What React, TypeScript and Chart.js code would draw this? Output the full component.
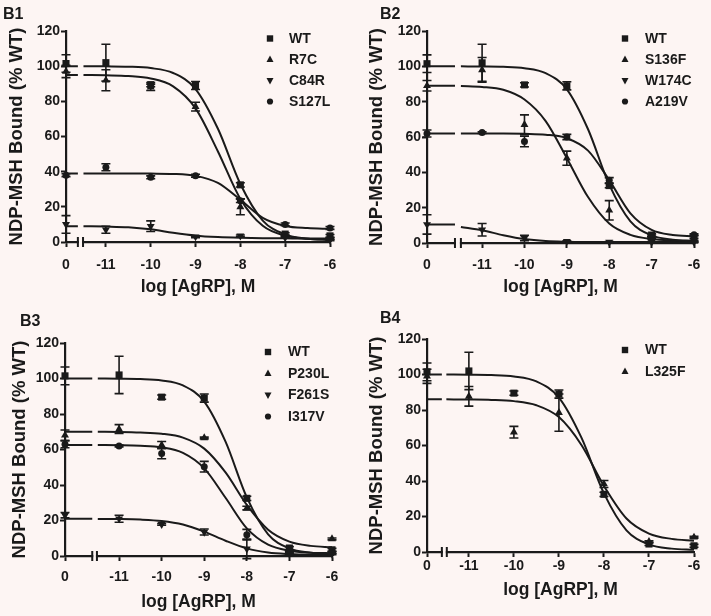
import React, { useEffect, useRef } from "react";
import { Chart, registerables } from "chart.js";

Chart.register(...registerables);

const BG = "#FDF5F3";
const INK = "#1a1a1a";
const FONT = "'Liberation Sans', Arial, Helvetica, sans-serif";

// x: log [AgRP] (M); "0" = no AgRP, plotted left of the axis break
const DOSE_LABELS = ["0", "-11", "-10", "-9", "-8", "-7", "-6"];
const LOG_DOSE = [0, -11, -10, -9, -8, -7, -6];
// fitted-curve sample positions (right of the break)
const FIT_LOG_X = [-11.5, -11, -10.5, -10, -9.5, -9, -8.5, -8, -7.5, -7, -6.5, -6];
const Y_TICKS = [0, 20, 40, 60, 80, 100, 120];
const Y_TITLE = "NDP-MSH Bound (% WT)";
const X_TITLE = "log [AgRP], M";

// *_MEAN / *_SEM: one value per LOG_DOSE
// *_FIT: first value = plateau drawn left of the break, then one value per FIT_LOG_X
const WT_MEAN = [101.5, 102, 89.5, 89, 32.5, 4.5, 3.5];
const WT_SEM = [5, 10.5, 1.2, 2.3, 1.2, 0.8, 0.8];
const WT_FIT = [100, 100, 99.9, 99.7, 98.9, 96.1, 87.0, 64.4, 33.0, 12.2, 4.3, 1.9, 1.2];

// B1
const R7C_MEAN = [97, 92, 88, 77, 20, 3.5, 2];
const R7C_SEM = [3.5, 6, 1.8, 2.5, 4.5, 0.5, 0.5];
const R7C_FIT = [95, 95, 94.8, 94.4, 93.0, 88.5, 76.0, 51.5, 24.5, 9.2, 3.6, 1.8, 1.2];
const C84R_MEAN = [10, 7, 9, 3, 3.5, 2.5, 1];
const C84R_SEM = [5, 2, 3, 0.5, 0.5, 0.3, 0.3];
const C84R_FIT = [9, 9, 8.8, 8.4, 7.2, 5.2, 3.6, 2.8, 2.4, 2.2, 2.1, 2.0, 2.0];
const S127L_MEAN = [38, 42.5, 36.8, 37.7, 23.5, 10, 8];
const S127L_SEM = [0.8, 2, 0.8, 0.8, 1, 0.8, 0.8];
const S127L_FIT = [39, 39, 39, 39, 38.9, 38.7, 37.6, 33.6, 24.0, 13.7, 9.1, 7.9, 7.5];

// B2
const S136F_MEAN = [89, 98, 67, 48, 18.5, 3, 1];
const S136F_SEM = [3, 7, 5.5, 4, 5.5, 0.5, 0.5];
const S136F_FIT = [89, 88.8, 88.3, 86.7, 81.2, 69.0, 48.0, 26.0, 11.0, 4.6, 2.2, 1.4, 1.1];
const W174C_MEAN = [10.5, 7.5, 2.8, 1, 0.5, 0.5, 0.5];
const W174C_SEM = [5.5, 3.5, 1.5, 0.3, 0.3, 0.3, 0.3];
const W174C_FIT = [10.5, 9.1, 7.2, 4.4, 2.2, 1.1, 0.7, 0.55, 0.5, 0.5, 0.5, 0.5, 0.5];
const A219V_MEAN = [62, 62.5, 57.5, 60, 35.5, 4, 4.7];
const A219V_SEM = [2, 0.5, 3, 1.5, 1.5, 0.5, 0.5];
const A219V_FIT = [62, 62, 62, 62, 61.8, 61.3, 59.3, 52.3, 35.6, 16.8, 7.4, 4.5, 3.8];

// B3
const P230L_MEAN = [68, 71.5, 62.5, 66.5, 27, 3, 9.6];
const P230L_SEM = [3, 2.5, 2, 0.5, 1, 0.5, 0.5];
const P230L_FIT = [70, 70, 69.9, 69.6, 68.9, 66.7, 60.5, 47.1, 28.8, 14.8, 8.1, 5.7, 4.9];
const F261S_MEAN = [23, 21, 17.8, 13.5, 4, 1, 1];
const F261S_SEM = [1.5, 2, 0.5, 1.7, 5.5, 0.3, 0.3];
const F261S_FIT = [21, 20.9, 20.8, 20.5, 19.7, 17.7, 13.7, 8.6, 4.3, 2.0, 1.1, 0.7, 0.6];
const I317V_MEAN = [63, 62, 57.8, 50.3, 12, 2.5, 2];
const I317V_SEM = [2, 0.5, 3, 3, 3, 0.5, 0.5];
const I317V_FIT = [62.5, 62.5, 62.4, 62.1, 61.2, 58.1, 49.4, 32.8, 15.6, 6.4, 3.0, 1.9, 1.6];

// B4
const L325F_MEAN = [99, 87.7, 67.5, 78.5, 38.3, 5.8, 8.3];
const L325F_SEM = [4, 5.5, 3.3, 10.5, 2, 0.5, 0.5];
const L325F_FIT = [86, 86, 85.9, 85.7, 85.0, 82.7, 76.0, 60.3, 37.2, 18.9, 10.4, 7.4, 6.4];

type Marker = "rect" | "tri" | "inv" | "circle";
type Series = { name: string; mean: number[]; sem: number[]; fit: number[]; marker: Marker };

const wt: Series = { name: "WT", mean: WT_MEAN, sem: WT_SEM, fit: WT_FIT, marker: "rect" };

const PANELS = [
  {
    label: "B1", box: [0, 0, 355, 300], area: [66, 31, 330, 242],
    zeroX: -11.89, breakX: [-11.625, -11.51],
    yTitleX: 17, xTitleY: 287.5, xTickPad: 9.6, labelPos: [3, 15],
    legend: { x: 270, textX: 289, y: 38.5, dy: 21 },
    series: [
      wt,
      { name: "R7C", mean: R7C_MEAN, sem: R7C_SEM, fit: R7C_FIT, marker: "tri" },
      { name: "C84R", mean: C84R_MEAN, sem: C84R_SEM, fit: C84R_FIT, marker: "inv" },
      { name: "S127L", mean: S127L_MEAN, sem: S127L_SEM, fit: S127L_FIT, marker: "circle" },
    ] as Series[],
  },
  {
    label: "B2", box: [355, 0, 356, 300], area: [427, 31, 694, 243],
    zeroX: -12.3, breakX: [-11.64, -11.5],
    yTitleX: 376.7, xTitleY: 287.5, xTickPad: 8.6, labelPos: [380, 15],
    legend: { x: 625, textX: 645, y: 38.5, dy: 21 },
    series: [
      wt,
      { name: "S136F", mean: S136F_MEAN, sem: S136F_SEM, fit: S136F_FIT, marker: "tri" },
      { name: "W174C", mean: W174C_MEAN, sem: W174C_SEM, fit: W174C_FIT, marker: "inv" },
      { name: "A219V", mean: A219V_MEAN, sem: A219V_SEM, fit: A219V_FIT, marker: "circle" },
    ] as Series[],
  },
  {
    label: "B3", box: [0, 300, 355, 316], area: [65, 343, 332, 556],
    zeroX: -12.27, breakX: [-11.63, -11.52],
    yTitleX: 20, xTitleY: 601.7, xTickPad: 7.6, labelPos: [20, 321.7],
    legend: { x: 268, textX: 288, y: 352, dy: 21.5 },
    series: [
      wt,
      { name: "P230L", mean: P230L_MEAN, sem: P230L_SEM, fit: P230L_FIT, marker: "tri" },
      { name: "F261S", mean: F261S_MEAN, sem: F261S_SEM, fit: F261S_FIT, marker: "inv" },
      { name: "I317V", mean: I317V_MEAN, sem: I317V_SEM, fit: I317V_FIT, marker: "circle" },
    ] as Series[],
  },
  {
    label: "B4", box: [355, 300, 356, 316], area: [427, 339, 694, 552],
    zeroX: -11.93, breakX: [-11.6, -11.49],
    yTitleX: 376.7, xTitleY: 590, xTickPad: 0.3, labelPos: [380, 319],
    legend: { x: 625, textX: 645, y: 350, dy: 21.5 },
    series: [
      wt,
      { name: "L325F", mean: L325F_MEAN, sem: L325F_SEM, fit: L325F_FIT, marker: "tri" },
    ] as Series[],
  },
];

type PanelCfg = (typeof PANELS)[number];

const POINT_STYLE: Record<Marker, { style: string; r: number; rot: number }> = {
  rect: { style: "rect", r: 5, rot: 0 },
  tri: { style: "triangle", r: 4.6, rot: 0 },
  inv: { style: "triangle", r: 4.6, rot: 180 },
  circle: { style: "circle", r: 3.5, rot: 0 },
};

function drawMarker(ctx: CanvasRenderingContext2D, kind: Marker, x: number, y: number) {
  ctx.beginPath();
  if (kind === "rect") {
    ctx.rect(x - 3.2, y - 3.2, 6.4, 6.4);
  } else if (kind === "tri") {
    ctx.moveTo(x, y - 4);
    ctx.lineTo(x + 3.5, y + 2.6);
    ctx.lineTo(x - 3.5, y + 2.6);
    ctx.closePath();
  } else if (kind === "inv") {
    ctx.moveTo(x, y + 4);
    ctx.lineTo(x + 3.5, y - 2.6);
    ctx.lineTo(x - 3.5, y - 2.6);
    ctx.closePath();
  } else {
    ctx.arc(x, y, 3.1, 0, Math.PI * 2);
  }
  ctx.fill();
}

function buildDatasets(cfg: PanelCfg) {
  const ds: any[] = [];
  const [bL, bR] = cfg.breakX;
  cfg.series.forEach((s) => {
    const fitData: { x: number; y: number | null }[] = [
      { x: cfg.zeroX, y: s.fit[0] },
      { x: bL, y: s.fit[0] },
      { x: (bL + bR) / 2, y: null },
      ...FIT_LOG_X.map((x, i) => ({ x, y: s.fit[i + 1] })),
    ];
    ds.push({
      data: fitData,
      borderColor: INK,
      borderWidth: 2,
      pointRadius: 0,
      cubicInterpolationMode: "monotone",
      spanGaps: false,
      fill: false,
      clip: false,
    });
  });
  cfg.series.forEach((s) => {
    const ps = POINT_STYLE[s.marker];
    ds.push({
      data: LOG_DOSE.map((d, i) => ({ x: d === 0 ? cfg.zeroX : d, y: s.mean[i] })),
      sem: s.sem,
      showLine: false,
      pointStyle: ps.style,
      pointRadius: ps.r,
      pointRotation: ps.rot,
      pointBackgroundColor: INK,
      pointBorderColor: INK,
      pointBorderWidth: 0,
      clip: false,
    });
  });
  return ds;
}

const errorBarPlugin = {
  id: "errorBars",
  afterDatasetsDraw(chart: any) {
    const ctx = chart.ctx as CanvasRenderingContext2D;
    const xs = chart.scales.x;
    const ys = chart.scales.y;
    ctx.save();
    ctx.strokeStyle = INK;
    ctx.lineWidth = 1.6;
    chart.data.datasets.forEach((d: any) => {
      if (!d.sem) return;
      d.data.forEach((p: any, i: number) => {
        const e = d.sem[i];
        if (!e) return;
        const px = xs.getPixelForValue(p.x);
        const yTop = ys.getPixelForValue(p.y + e);
        const yBot = ys.getPixelForValue(p.y - e);
        ctx.beginPath();
        ctx.moveTo(px, yTop);
        ctx.lineTo(px, yBot);
        ctx.moveTo(px - 4.5, yTop);
        ctx.lineTo(px + 4.5, yTop);
        ctx.moveTo(px - 4.5, yBot);
        ctx.lineTo(px + 4.5, yBot);
        ctx.stroke();
      });
    });
    ctx.restore();
  },
};

function makeDecorPlugin(cfg: PanelCfg) {
  return {
    id: "decor" + cfg.label,
    afterDraw(chart: any) {
      const ctx = chart.ctx as CanvasRenderingContext2D;
      const xs = chart.scales.x;
      const ys = chart.scales.y;
      const [L, T] = cfg.box;
      ctx.save();
      // axis break
      const y0 = ys.getPixelForValue(0);
      const b1 = xs.getPixelForValue(cfg.breakX[0]);
      const b2 = xs.getPixelForValue(cfg.breakX[1]);
      ctx.fillStyle = BG;
      ctx.fillRect(b1 + 1, y0 - 3, b2 - b1 - 2, 6);
      ctx.strokeStyle = INK;
      ctx.lineWidth = 2;
      ctx.beginPath();
      ctx.moveTo(b1, y0 - 5);
      ctx.lineTo(b1, y0 + 5);
      ctx.moveTo(b2, y0 - 5);
      ctx.lineTo(b2, y0 + 5);
      ctx.stroke();
      // panel label
      ctx.fillStyle = INK;
      ctx.textBaseline = "middle";
      ctx.textAlign = "left";
      ctx.font = `bold 16px ${FONT}`;
      ctx.fillText(cfg.label, cfg.labelPos[0] - L, cfg.labelPos[1] - T);
      // legend
      ctx.font = `bold 14px ${FONT}`;
      cfg.series.forEach((s, i) => {
        const y = cfg.legend.y - T + i * cfg.legend.dy;
        drawMarker(ctx, s.marker, cfg.legend.x - L, y);
        ctx.fillText(s.name, cfg.legend.textX - L, y + 0.5);
      });
      ctx.restore();
    },
  };
}

function Panel({ cfg }: { cfg: PanelCfg }) {
  const ref = useRef<HTMLCanvasElement>(null);
  const [L, T, W, H] = cfg.box;
  useEffect(() => {
    const [aL, aT, aR, aB] = cfg.area;
    const yTitleSize = 18.5;
    const xTitleSize = 17.5;
    const tickFont = { family: FONT, size: 14, weight: "bold" as const };
    const xTickVals = [cfg.zeroX, -11, -10, -9, -8, -7, -6];
    const chart = new Chart(ref.current as HTMLCanvasElement, {
      type: "line",
      data: { datasets: buildDatasets(cfg) },
      options: {
        responsive: false,
        animation: false,
        devicePixelRatio: 1,
        events: [],
        layout: { padding: { left: 0, top: aT - T, right: L + W - aR, bottom: 0 } },
        plugins: {
          legend: { display: false },
          tooltip: { enabled: false },
        },
        scales: {
          x: {
            type: "linear",
            min: cfg.zeroX,
            max: -6,
            afterBuildTicks: (s: any) => {
              s.ticks = xTickVals.map((v) => ({ value: v }));
            },
            afterFit: (s: any) => {
              s.height = T + H - aB;
            },
            ticks: {
              autoSkip: false,
              maxRotation: 0,
              padding: cfg.xTickPad,
              color: INK,
              font: tickFont,
              callback: (_v: any, i: number) => DOSE_LABELS[i],
            },
            grid: {
              display: true,
              drawOnChartArea: false,
              drawTicks: true,
              tickLength: 5,
              tickWidth: 2,
              tickColor: INK,
            },
            border: { display: true, color: INK, width: 2.2 },
            title: {
              display: true,
              text: X_TITLE,
              color: INK,
              font: { family: FONT, size: xTitleSize, weight: "bold" },
              padding: { top: 0, bottom: T + H - cfg.xTitleY - (xTitleSize * 1.2) / 2 },
            },
          },
          y: {
            type: "linear",
            min: 0,
            max: 120,
            afterBuildTicks: (s: any) => {
              s.ticks = Y_TICKS.map((v) => ({ value: v }));
            },
            afterFit: (s: any) => {
              s.width = aL - L;
            },
            ticks: {
              padding: 1,
              color: INK,
              font: tickFont,
            },
            grid: {
              display: true,
              drawOnChartArea: false,
              drawTicks: true,
              tickLength: 5,
              tickWidth: 2,
              tickColor: INK,
            },
            border: { display: true, color: INK, width: 2.2 },
            title: {
              display: true,
              text: Y_TITLE,
              color: INK,
              font: { family: FONT, size: yTitleSize, weight: "bold" },
              padding: { top: cfg.yTitleX - L - (yTitleSize * 1.2) / 2, bottom: 0 },
            },
          },
        },
      } as any,
      plugins: [errorBarPlugin, makeDecorPlugin(cfg)],
    });
    return () => chart.destroy();
  }, [cfg]);
  return (
    <canvas
      ref={ref}
      width={W}
      height={H}
      style={{ position: "absolute", left: L, top: T, width: W, height: H, display: "block" }}
    />
  );
}

export default function App() {
  return (
    <div
      style={{
        position: "absolute",
        left: 0,
        top: 0,
        width: 711,
        height: 616,
        background: BG,
        overflow: "hidden",
      }}
    >
      {PANELS.map((p) => (
        <Panel key={p.label} cfg={p} />
      ))}
    </div>
  );
}
